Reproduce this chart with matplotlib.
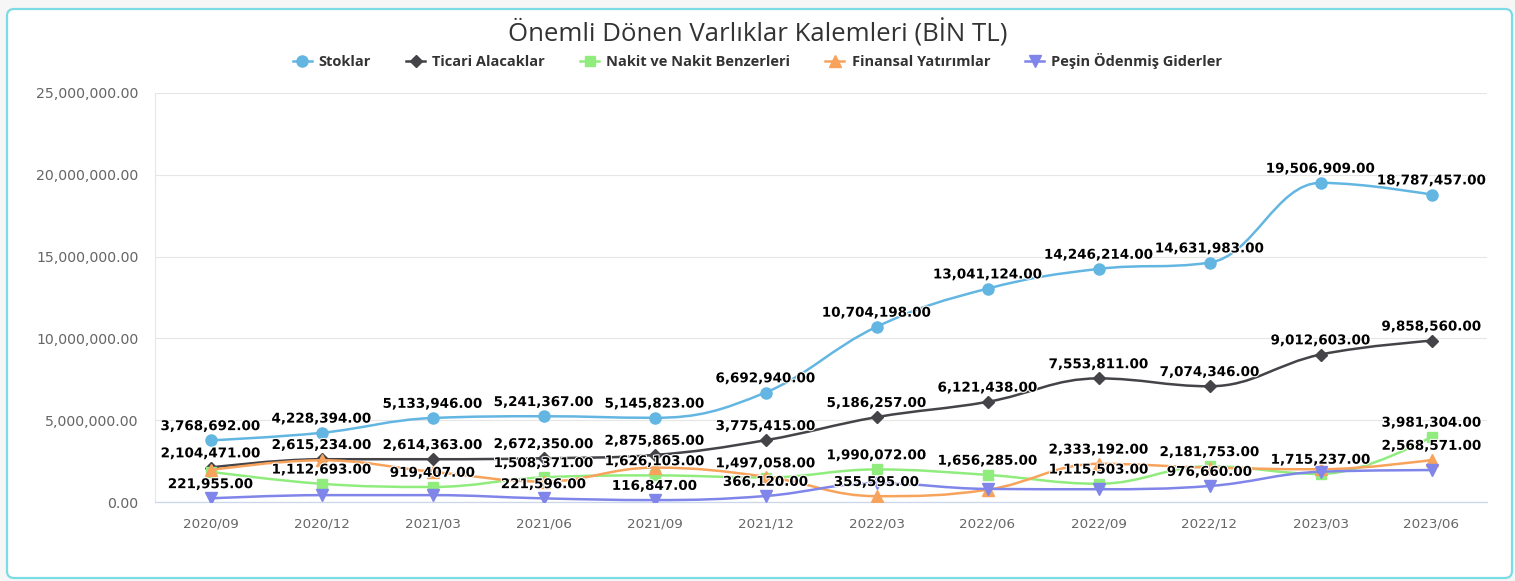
import numpy as np
import matplotlib.pyplot as plt
import matplotlib.patheffects as pe
from matplotlib.path import Path
from matplotlib.patches import PathPatch, FancyBboxPatch
from matplotlib.lines import Line2D
from matplotlib.ticker import FuncFormatter, MultipleLocator

# Data (BİN TL)
periods = ['2020/09', '2020/12', '2021/03', '2021/06', '2021/09', '2021/12',
           '2022/03', '2022/06', '2022/09', '2022/12', '2023/03', '2023/06']
stoklar = [3768692, 4228394, 5133946, 5241367, 5145823, 6692940,
           10704198, 13041124, 14246214, 14631983, 19506909, 18787457]
ticari = [2104471, 2615234, 2614363, 2672350, 2875865, 3775415,
          5186257, 6121438, 7553811, 7074346, 9012603, 9858560]
nakit = [1850000, 1112693, 919407, 1508371, 1626103, 1497058,
         1990072, 1656285, 1115503, 2181753, 1715237, 3981304]
finansal = [1950000, 2550000, 1850000, 1250000, 2100000, 1550000,
            355595, 750000, 2333192, 2100000, 2000000, 2568571]
pesin = [221955, 420000, 420000, 221596, 116847, 366120,
         1150000, 800000, 780000, 976660, 1850000, 1950000]

# which data labels are visible (others hidden by overlap in the original)
show_stoklar = list(range(12))
show_ticari = list(range(12))
show_nakit = list(range(1, 12))
show_finansal = [6, 8, 11]
show_pesin = [0, 3, 4, 5, 9]

series = [
    ('Stoklar', stoklar, '#63b6e2', 'o', 8, show_stoklar),
    ('Ticari Alacaklar', ticari, '#434348', 'D', 5.8, show_ticari),
    ('Nakit ve Nakit Benzerleri', nakit, '#90ed7d', 's', 7.4, show_nakit),
    ('Finansal Yatırımlar', finansal, '#f7a35c', '^', 8, show_finansal),
    ('Peşin Ödenmiş Giderler', pesin, '#8085e9', 'v', 8, show_pesin),
]


def spline_path(xs, ys, smoothing=1.5):
    # highcharts-like spline control points
    n = len(xs)
    lc = [None] * n
    rc = [None] * n
    for i in range(n):
        x, y = xs[i], ys[i]
        if 0 < i < n - 1:
            lx, ly = xs[i - 1], ys[i - 1]
            nx, ny = xs[i + 1], ys[i + 1]
            d = smoothing + 1
            lcx = (smoothing * x + lx) / d
            lcy = (smoothing * y + ly) / d
            rcx = (smoothing * x + nx) / d
            rcy = (smoothing * y + ny) / d
            corr = (rcy - lcy) * (rcx - x) / (rcx - lcx) + y - rcy
            lcy += corr
            rcy += corr
            if lcy > ly and lcy > y:
                lcy = max(ly, y)
                rcy = 2 * y - lcy
            elif lcy < ly and lcy < y:
                lcy = min(ly, y)
                rcy = 2 * y - lcy
            if rcy > ny and rcy > y:
                rcy = max(ny, y)
                lcy = 2 * y - rcy
            elif rcy < ny and rcy < y:
                rcy = min(ny, y)
                lcy = 2 * y - rcy
            lc[i] = (lcx, lcy)
            rc[i] = (rcx, rcy)
        else:
            lc[i] = (x, y)
            rc[i] = (x, y)
    verts = [(xs[0], ys[0])]
    codes = [Path.MOVETO]
    for i in range(1, n):
        verts += [rc[i - 1], lc[i], (xs[i], ys[i])]
        codes += [Path.CURVE4] * 3
    return Path(verts, codes)


fig = plt.figure(figsize=(15.15, 5.81), dpi=100)
fig.patch.set_facecolor('#f6f6f6')

frame = FancyBboxPatch((0.07, 0.03), 15.05, 5.69,
                       boxstyle='round,pad=0,rounding_size=0.07',
                       transform=fig.dpi_scale_trans,
                       facecolor='white', edgecolor='#7ddbe6', lw=1.6, zorder=-5)
fig.add_artist(frame)

ax = fig.add_axes([155 / 1515, 79 / 581, 1332 / 1515, 409 / 581])
ax.patch.set_alpha(0)

x = np.arange(len(periods))
handles = []
for k, (name, vals, color, marker, ms, shown) in enumerate(series):
    path = spline_path(list(x), list(vals))
    ax.add_patch(PathPatch(path, fill=False, edgecolor=color, lw=1.8,
                           zorder=3 + k, capstyle='round', joinstyle='round'))
    ax.plot(x, vals, ls='none', marker=marker, ms=ms, color=color,
            mec=color, zorder=3 + k)
    handles.append(Line2D([], [], color=color, lw=1.8, marker=marker, ms=ms))

for name, vals, color, marker, ms, shown in series:
    for i in shown:
        ax.annotate(f'{vals[i]:,.2f}', (x[i], vals[i]), xytext=(0, 5.2),
                    textcoords='offset points', ha='center', va='bottom',
                    fontsize=9.7, fontweight='bold', color='black',
                    family='DejaVu Sans', zorder=20,
                    path_effects=[pe.withStroke(linewidth=1.5, foreground='white')])

ax.set_xlim(-0.5, len(periods) - 0.5)
ax.set_ylim(0, 25e6)
ax.yaxis.set_major_locator(MultipleLocator(5e6))
ax.yaxis.set_major_formatter(FuncFormatter(lambda v, p: f'{v:,.2f}'))
ax.set_xticks(x)
ax.set_xticklabels(periods)
ax.grid(axis='y', color='#e6e6e6', lw=0.8)
ax.set_axisbelow(True)
for s in ['top', 'right']:
    ax.spines[s].set_visible(False)
ax.spines['bottom'].set_color('#ccd6eb')
ax.spines['bottom'].set_linewidth(0.9)
ax.spines['left'].set_color('#e2e8f2')
ax.spines['left'].set_linewidth(0.8)
ax.tick_params(axis='y', length=0, pad=12, labelsize=10.2, labelcolor='#666666')
ax.tick_params(axis='x', length=0, pad=11, labelsize=9.7, labelcolor='#666666')
for lab in ax.get_xticklabels() + ax.get_yticklabels():
    lab.set_family('DejaVu Sans')

fig.text(0.5, 1 - 33 / 581, 'Önemli Dönen Varlıklar Kalemleri (BİN TL)',
         ha='center', va='center', fontsize=18.5, color='#333333', family='Open Sans')

fig.legend(handles, [s[0] for s in series], ncol=5, loc='center',
           bbox_to_anchor=(0.5, 1 - 61 / 581), frameon=False,
           handlelength=1.3, handletextpad=0.5, columnspacing=2.4,
           prop={'family': 'Open Sans', 'weight': 'bold', 'size': 10.5},
           labelcolor='#333333')

fig.savefig('out.png', dpi=100, facecolor=fig.get_facecolor())
